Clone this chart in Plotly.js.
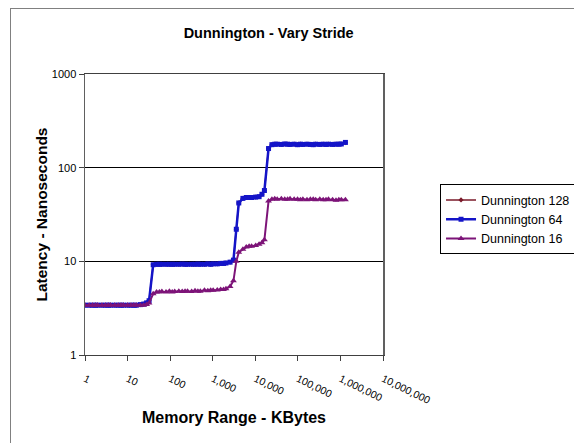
<!DOCTYPE html>
<html>
<head>
<meta charset="utf-8">
<script src="https://cdn.plot.ly/plotly-3.0.1.min.js"></script>
<style>
html,body{margin:0;padding:0;background:#fff;}
#frame{position:absolute;left:10px;top:8px;width:600px;height:500px;border:1px solid #808080;}
#chart{position:absolute;left:0;top:0;width:574px;height:443px;}
</style>
</head>
<body>
<div id="frame"></div>
<div id="chart"></div>
<script>
// Memory range in KBytes
const memKB = [1, 1.25, 1.5, 1.75, 2, 2.5, 3, 3.5, 4, 5, 6, 7, 8, 10, 12, 14,
  16, 20, 24, 28, 32, 40, 48, 56, 64, 80, 96, 112, 128, 160, 192, 224,
  256, 320, 384, 448, 512, 640, 768, 896, 1024, 1280, 1536, 1792,
  2048, 2560, 3072, 3584, 4096, 5120, 6144, 7168, 8192, 10240, 12288, 14336,
  16384, 20480, 24576, 28672, 32768, 40960, 49152, 57344, 65536, 81920, 98304, 114688,
  131072, 163840, 196608, 229376, 262144, 327680, 393216, 458752,
  524288, 655360, 786432, 917504, 1048576, 1310720];

// Latency (ns) for stride 128 (hidden under stride 64 in the original)
const dun128 = [3.4, 3.4, 3.4, 3.4, 3.4, 3.4, 3.4, 3.4, 3.4, 3.4, 3.4, 3.4, 3.4, 3.4, 3.4, 3.4,
  3.4, 3.45, 3.5, 3.6, 3.8, 9.2, 9.3, 9.3, 9.3, 9.3, 9.3, 9.3, 9.3, 9.3, 9.35, 9.3,
  9.3, 9.3, 9.3, 9.35, 9.3, 9.3, 9.4, 9.3, 9.4, 9.4, 9.5, 9.5,
  9.6, 9.8, 10.3, 22, 42, 47, 48, 48, 48, 48.5, 49, 52,
  57, 160, 176, 178, 178, 177, 179, 178, 177, 178, 176, 178,
  177, 178, 177, 176, 178, 177, 178, 177,
  178, 177, 178, 178, 179, 185];

// Latency (ns) for stride 64
const dun64 = [3.4, 3.4, 3.4, 3.4, 3.4, 3.4, 3.4, 3.4, 3.4, 3.4, 3.4, 3.4, 3.4, 3.4, 3.4, 3.4,
  3.4, 3.45, 3.5, 3.6, 3.8, 9.2, 9.3, 9.3, 9.3, 9.3, 9.3, 9.3, 9.3, 9.3, 9.35, 9.3,
  9.3, 9.3, 9.3, 9.35, 9.3, 9.3, 9.4, 9.3, 9.4, 9.4, 9.5, 9.5,
  9.6, 9.8, 10.3, 22, 42, 47, 48, 48, 48, 48.5, 49, 52,
  57, 160, 176, 178, 178, 177, 179, 178, 177, 178, 176, 178,
  177, 178, 177, 176, 178, 177, 178, 177,
  178, 177, 178, 178, 179, 186];

// Latency (ns) for stride 16
const dun16 = [3.4, 3.4, 3.4, 3.4, 3.4, 3.4, 3.4, 3.4, 3.4, 3.4, 3.4, 3.4, 3.4, 3.4, 3.4, 3.4,
  3.4, 3.4, 3.4, 3.45, 3.6, 4.5, 4.7, 4.7, 4.75, 4.7, 4.8, 4.7, 4.75, 4.8, 4.75, 4.8,
  4.8, 4.75, 4.85, 4.8, 4.8, 4.9, 4.85, 4.9, 4.9, 4.95, 5.0, 5.0,
  5.1, 5.4, 6.2, 10, 12.5, 13.5, 14.2, 14.5, 14.5, 14.8, 15.2, 15.8,
  17, 44, 46, 46.5, 46, 46.5, 46, 46, 46.5, 46, 46, 45.5,
  46, 45.5, 46, 46, 45.5, 46, 45.5, 45.5,
  46, 45.5, 45, 45.5, 45.5, 45.5];

const seriesNames = ['Dunnington 128', 'Dunnington 64', 'Dunnington 16'];
const xTickVals = [1, 10, 100, 1000, 10000, 100000, 1000000, 10000000];
const xTickText = ['1', '10', '100', '1,000', '10,000', '100,000', '1,000,000', '10,000,000'];
const yTickVals = [1, 10, 100, 1000];
const yTickText = ['1', '10', '100', '1000'];

const FONT = 'Liberation Sans, Arial, sans-serif';

const traces = [
  {x: memKB, y: dun128, name: seriesNames[0], mode: 'lines+markers',
   line: {color: '#7a1a2a', width: 1.5}, marker: {symbol: 'diamond', size: 4, color: '#7a1a2a'}},
  {x: memKB, y: dun64, name: seriesNames[1], mode: 'lines+markers',
   line: {color: '#1414c8', width: 2.5}, marker: {symbol: 'square', size: 5, color: '#1414c8'}},
  {x: memKB, y: dun16, name: seriesNames[2], mode: 'lines+markers',
   line: {color: '#7d1478', width: 2}, marker: {symbol: 'triangle-up', size: 6, color: '#7d1478'}}
];

const layout = {
  width: 574, height: 443,
  margin: {l: 85, r: 191, t: 74, b: 88},
  paper_bgcolor: 'rgba(0,0,0,0)',
  plot_bgcolor: '#ffffff',
  font: {family: FONT, color: '#000'},
  title: {text: '<b>Dunnington - Vary Stride</b>', font: {family: FONT, size: 14.5, color: '#000'},
          x: 0.468, xanchor: 'center', y: 0.925, yanchor: 'middle'},
  xaxis: {
    type: 'log', range: [0, 7],
    tickvals: xTickVals, ticktext: xTickText,
    tickangle: 26, tickfont: {family: FONT, size: 10.5, color: '#000'},
    ticks: 'outside', ticklen: 5, tickcolor: '#404040',
    ticklabelstandoff: 8,
    showgrid: false, zeroline: false,
    showline: true, linecolor: '#404040', linewidth: 1, mirror: true,
    title: {text: '<b>Memory Range - KBytes</b>', font: {family: FONT, size: 16, color: '#000'}, standoff: 6}
  },
  yaxis: {
    type: 'log', range: [0, 3],
    tickvals: yTickVals, ticktext: yTickText,
    tickfont: {family: FONT, size: 11, color: '#000'},
    ticks: 'outside', ticklen: 5, tickcolor: '#404040',
    showgrid: true, gridcolor: '#000000', gridwidth: 1, zeroline: false,
    showline: true, linecolor: '#606060', linewidth: 1.5, mirror: true,
    title: {text: '<b>Latency - Nanoseconds</b>', font: {family: FONT, size: 15.5, color: '#000'}, standoff: 0}
  },
  legend: {
    xref: 'container', yref: 'container',
    x: 0.7666, y: 0.584, xanchor: 'left', yanchor: 'top',
    bordercolor: '#000', borderwidth: 1, bgcolor: '#fff',
    font: {family: FONT, size: 12.5, color: '#000'},
    itemwidth: 30, tracegroupgap: 0
  },
  showlegend: true
};

Plotly.newPlot('chart', traces, layout, {displayModeBar: false, staticPlot: true});
</script>
</body>
</html>
